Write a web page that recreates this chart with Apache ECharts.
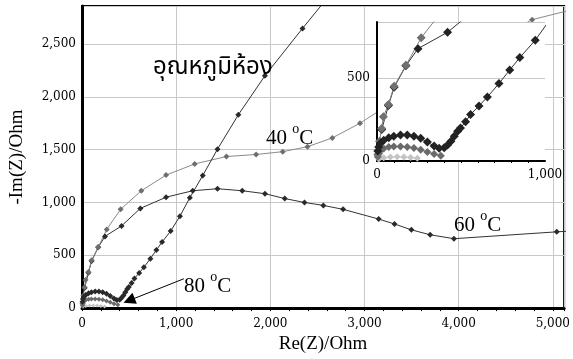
<!DOCTYPE html>
<html><head><meta charset="utf-8">
<script src="https://cdn.jsdelivr.net/npm/echarts@6/dist/echarts.min.js"></script>
<style>html,body{margin:0;padding:0;background:#fff}#c{width:573px;height:359px}</style>
</head><body><div id="c"></div>
<script>
// Nyquist data: [Re(Z), -Im(Z)] in Ohm
const roomTemp = [[5,60],[10,85],[20,107],[40,125],[70,140],[100,150],[140,157],[180,157],[220,150],[260,137],[300,115],[340,90],[370,77],[400,80],[420,97],[440,120],[460,150],[480,180],[497,200],[527,237],[557,281],[607,333],[657,387],[726,468],[790,550],[850,625],[942,730],[1040,870],[1145,1045],[1282,1255],[1439,1505],[1660,1830],[1943,2200],[2342,2648],[2700,3040]];
const temp40 = [[5,40],[15,120],[28,197],[38,267],[68,342],[102,452],[172,578],[263,745],[410,935],[630,1111],[893,1259],[1197,1365],[1534,1435],[1849,1454],[2132,1481],[2395,1528],[2658,1611],[2952,1750],[3300,1950],[3700,2180],[4200,2450],[4780,2730],[5400,2870]];
const temp60 = [[28,190],[68,335],[102,445],[172,575],[244,679],[420,778],[620,944],[893,1050],[1176,1111],[1439,1130],[1702,1111],[1943,1083],[2153,1037],[2363,1000],[2563,972],[2773,935],[3151,843],[3319,796],[3498,741],[3697,694],[3950,657],[5042,722],[5500,745]];
const temp80 = [[5,25],[12,45],[20,62],[40,76],[70,84],[100,87],[140,87],[180,84],[220,78],[260,68],[300,55],[340,42],[380,32]];
const temp80hf = [[10,12],[40,20],[80,24],[120,25],[160,24],[200,21],[240,16]];
const mainXTicks = [0,1000,2000,3000,4000,5000];
const mainYTicks = [0,500,1000,1500,2000,2500];
const insetXTicks = [0,1000];
const insetYTicks = [0,500];

const fmt = (ticks) => (v) => ticks.includes(v) ? v.toLocaleString('en-US') : '';
const lblFont = {fontFamily:'DejaVu Serif', fontSize:12, color:'#000'};
const gridLine = {show:true, lineStyle:{color:'#c8c8c8', width:1}};

function mk(name, data, color, lineColor, size, gi, extra) {
  return Object.assign({
    type:'line', name, data, xAxisIndex:gi, yAxisIndex:gi,
    symbol:'diamond', symbolSize:size, showSymbol:true,
    itemStyle:{color}, lineStyle:{color:lineColor, width:1},
    animation:false, silent:true, clip:true,
    zlevel: gi
  }, extra||{});
}
const degRich = {
  n:{fontFamily:'Liberation Serif', fontSize:21, fill:'#000', padding:[6,0,0,0]},
  s:{fontFamily:'Liberation Serif', fontSize:14, fill:'#000', verticalAlign:'top'}
};

const chart = echarts.init(document.getElementById('c'), null, {renderer:'canvas'});
chart.setOption({
  backgroundColor:'#fff',
  animation:false,
  grid:[
    {left:82, top:6, right:3, bottom:44, show:true, borderColor:'#000', borderWidth:2, backgroundColor:'#fff'},
    {left:377, top:22, width:168, height:139, show:true, borderWidth:0, backgroundColor:'#fff', zlevel:1}
  ],
  xAxis:[
    {type:'value', gridIndex:0, min:0, max:5120, interval:1000,
     name:'Re(Z)/Ohm', nameLocation:'middle', nameGap:24,
     nameTextStyle:{fontFamily:'Liberation Serif', fontSize:19, color:'#000'},
     axisLine:{show:true, lineStyle:{color:'#000', width:3}},
     axisTick:{show:true, length:3, lineStyle:{color:'#000'}},
     minorTick:{show:true, splitNumber:5, length:3, lineStyle:{color:'#000'}},
     axisLabel:Object.assign({formatter:fmt(mainXTicks), margin:10}, lblFont),
     splitLine:gridLine},
    {type:'value', gridIndex:1, min:0, max:1000, interval:1000, zlevel:1,
     axisLine:{show:true, lineStyle:{color:'#000', width:2}},
     axisTick:{show:false},
     minorTick:{show:true, splitNumber:10, length:2, lineStyle:{color:'#000'}},
     axisLabel:Object.assign({formatter:fmt(insetXTicks), margin:8}, lblFont),
     splitLine:{show:false}}
  ],
  yAxis:[
    {type:'value', gridIndex:0, min:0, max:2860, interval:500,
     name:'-Im(Z)/Ohm', nameLocation:'middle', nameGap:55, nameRotate:90,
     nameTextStyle:{fontFamily:'Liberation Serif', fontSize:19, color:'#000'},
     axisLine:{show:true, lineStyle:{color:'#000', width:3}},
     axisTick:{show:false},
     axisLabel:Object.assign({formatter:fmt(mainYTicks), margin:6}, lblFont),
     splitLine:gridLine},
    {type:'value', gridIndex:1, min:0, max:840, interval:500, zlevel:1,
     axisLine:{show:true, lineStyle:{color:'#000', width:2}},
     axisTick:{show:false},
     axisLabel:Object.assign({formatter:fmt(insetYTicks), margin:7}, lblFont),
     splitLine:gridLine}
  ],
  series:[
    mk('80hf', temp80hf, '#c4c4c4', '#c4c4c4', 4, 0),
    mk('80', temp80, '#6a6a6a', '#6a6a6a', 5, 0, {
      markLine:{silent:true, animation:false, symbol:['none','triangle'], symbolSize:12,
        label:{show:false}, itemStyle:{color:'#000'},
        lineStyle:{color:'#000', width:1, type:'solid'},
        emphasis:{disabled:true},
        data:[[{coord:[1082,278]},{coord:[500,72]}]]}
    }),
    mk('60', temp60, '#2a2a2a', '#333', 6, 0),
    mk('40', temp40, '#6e6e6e', '#8a8a8a', 6, 0),
    mk('room', roomTemp, '#2a2a2a', '#333', 6, 0),
    mk('80hf-i', temp80hf, '#c4c4c4', '#c4c4c4', 7, 1),
    mk('80-i', temp80, '#6a6a6a', '#6a6a6a', 8, 1),
    mk('60-i', temp60, '#222', '#333', 9, 1),
    mk('40-i', temp40, '#707070', '#808080', 9, 1),
    mk('room-i', roomTemp, '#222', '#333', 9, 1)
  ],
  graphic:[
    {type:'text', left:153, top:57, silent:true, z:10,
     style:{text:'อุณหภูมิห้อง', fontFamily:"'Noto Sans Thai','Loma','Garuda','Norasi','Tlwg Typo','DejaVu Sans',sans-serif", fontSize:24, fill:'#000'}},
    {type:'text', left:266, top:122, silent:true, z:10, style:{text:'{n|40 }{s|o}{n|C}', rich:degRich}},
    {type:'text', left:454, top:209, silent:true, z:10, style:{text:'{n|60 }{s|o}{n|C}', rich:degRich}},
    {type:'text', left:184, top:270, silent:true, z:10, style:{text:'{n|80 }{s|o}{n|C}', rich:degRich}}
  ]
});
</script></body></html>
